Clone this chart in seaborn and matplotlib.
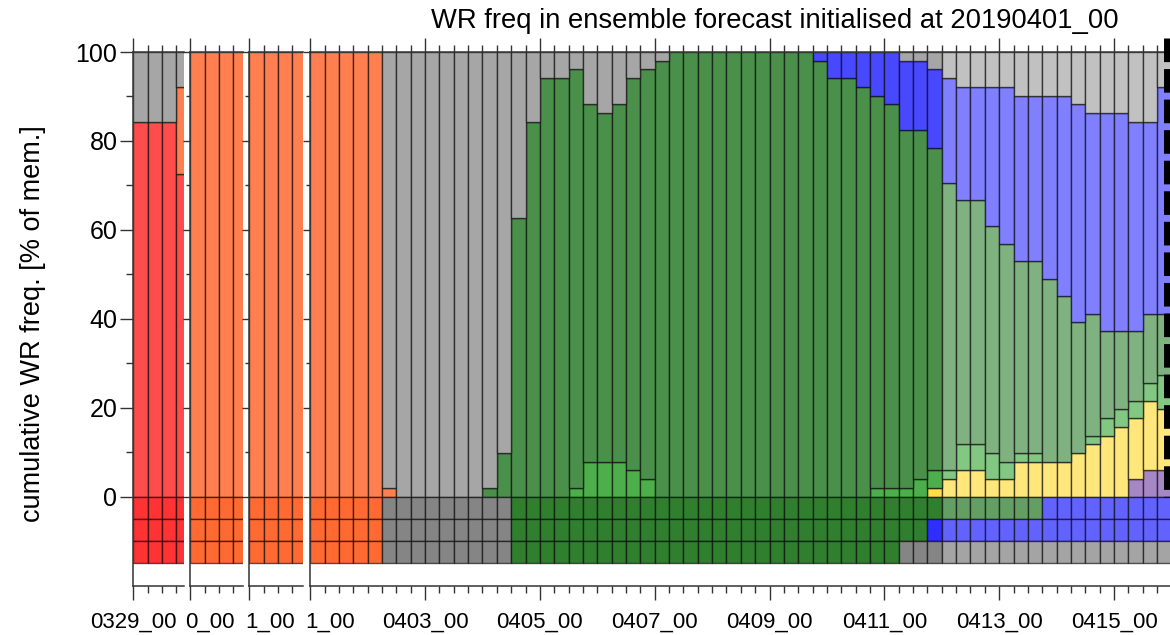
import numpy as np
import matplotlib
matplotlib.use("Agg")
import matplotlib.pyplot as plt
from matplotlib.ticker import FixedLocator, MultipleLocator
from matplotlib.colors import to_rgb
import seaborn as sns

# ---------------- data (member counts out of 51, 6-hourly steps) ----------------
N_MEMBERS = 51
regimes = ["AT", "ZO", "ScTr", "AR", "EuBL", "ScBL", "GL", "no"]

# panel 1: forecast valid 0329_00 .. 0329_18
p1_ZO   = [43, 43, 43, 37]
p1_ScTr = [0, 0, 0, 10]
p1_no   = [8, 8, 8, 4]
# panels 2 and 3: 0330 and 0331
p2_ScTr = [51, 51, 51, 51]
p3_ScTr = [51, 51, 51, 51]

# main panel: forecast initialised 20190401_00, steps 0401_00 .. 0415_18
main_AT = [0]*57 + [2, 3, 3]
main_ScTr = [51, 51, 51, 51, 51, 1] + [0]*54
main_AR = [0]*43 + [1, 2, 3, 3, 2, 2, 4, 4, 4, 4, 5, 6, 7, 8, 7, 8, 7]
main_EuBL = ([0]*18 + [1, 4, 4, 4, 3, 2] + [0]*15 +
             [1, 1, 1, 2, 2, 1, 3, 3, 3, 2, 1, 1, 0, 0, 0, 1, 2, 2, 2, 2, 4])
main_ScBL = ([0]*12 + [1, 5, 32, 43, 48, 48, 48, 41, 40, 41, 45, 47, 50] + [51]*10 +
             [50, 48, 48, 47, 45, 44, 41, 40, 37, 33, 28, 28, 26, 25, 22, 22, 21, 19,
              15, 14, 10, 9, 8, 8, 7])
main_GL = ([0]*35 + [1, 3, 3, 4, 5, 6, 8, 8, 9, 12, 13, 13, 16, 18, 19, 19, 21, 23,
                     25, 23, 25, 25, 24, 22, 26])
main_no = ([0]*5 + [50, 51, 51, 51, 51, 51, 51, 50, 46, 19, 8, 3, 3, 2, 6, 7, 6, 3, 2, 1] +
           [0]*16 + [1, 1, 2, 3, 4, 4, 4, 4, 5, 5, 5, 5, 6, 7, 7, 7, 8, 8, 4])

# classification rows below zero (three rows per time step)
main_row1 = ["ScTr"]*5 + ["no"]*9 + ["ScBL"]*37 + ["GL"]*9
main_row2 = ["ScTr"]*5 + ["no"]*9 + ["ScBL"]*29 + ["GL"]*17
main_row3 = ["ScTr"]*5 + ["no"]*9 + ["ScBL"]*27 + ["no"]*19
EXTENDED_FROM = 44   # steps from 0412_00 on are drawn in lighter shades

main_tick_labels = ["0403_00", "0405_00", "0407_00", "0409_00",
                    "0411_00", "0413_00", "0415_00"]
p1_label = "0329_00"
clipped_labels = ["0_00", "1_00", "1_00"]
title = "WR freq in ensemble forecast initialised at 20190401_00"
ylabel = "cumulative WR freq. [% of mem.]"

# ---------------- styling ----------------
sns.set_theme(style="ticks")
plt.rcParams["font.family"] = ["Liberation Sans", "DejaVu Sans"]
plt.rcParams["text.color"] = "black"

upper = {"AT": "#7E54AC", "ZO": "#FF4D4D", "ScTr": "#FF7F50", "AR": "#FFDD44",
         "EuBL": "#4CAF4C", "ScBL": "#4A904A", "GL": "#4848FF", "no": "#A6A6A6"}
lower = {"AT": "#6A3A9A", "ZO": "#FF3333", "ScTr": "#FF6A33", "AR": "#FFD020",
         "EuBL": "#35A035", "ScBL": "#2F7F2F", "GL": "#2E2EFF", "no": "#858585"}


def lighten(c, f):
    r = np.array(to_rgb(c))
    return tuple(r + (1 - r) * f)


EDGE = (0, 0, 0, 0.62)
AXC = "#333333"
XT_SIZE = 16

W, H = 1170, 635
fig = plt.figure(figsize=(W / 100, H / 100), dpi=100)
Y0_PX, Y1_PX = 585.5, 52.0
STEP_PX = 14.354


def add_panel(x0, x1):
    ax = fig.add_axes([x0 / W, (H - Y0_PX) / H, (x1 - x0) / W, (Y0_PX - Y1_PX) / H])
    ax.set_xlim(0, (x1 - x0) / STEP_PX)
    ax.set_ylim(-20, 100)
    ax.patch.set_alpha(0)
    for s in ["left", "top", "bottom"]:
        ax.spines[s].set_color(AXC)
        ax.spines[s].set_linewidth(1.1)
    ax.spines["right"].set_visible(False)
    return ax


def draw(ax, data, rows, ext_from=None):
    n = len(rows[0])
    bottom = np.zeros(n)
    for reg in regimes:
        if reg not in data:
            continue
        pct = np.asarray(data[reg], float) / N_MEMBERS * 100
        idx = np.nonzero(pct > 0)[0]
        if len(idx):
            cols = [lighten(upper[reg], 0.3) if (ext_from is not None and i >= ext_from)
                    else upper[reg] for i in idx]
            ax.bar(idx, pct[idx], width=1, bottom=bottom[idx], align="edge",
                   color=cols, edgecolor=EDGE, linewidth=1.0, zorder=1)
        bottom += pct
    for r, row in enumerate(rows):
        cols = [lighten(lower[reg], 0.25) if (ext_from is not None and i >= ext_from)
                else lower[reg] for i, reg in enumerate(row)]
        ax.bar(np.arange(n), [5] * n, width=1, bottom=-5 * (r + 1), align="edge",
               color=cols, edgecolor=EDGE, linewidth=1.0, zorder=1)


def ticks(ax, major_x, first=False):
    ax.xaxis.set_major_locator(FixedLocator(major_x))
    ax.xaxis.set_minor_locator(MultipleLocator(1))
    ax.yaxis.set_major_locator(FixedLocator([0, 20, 40, 60, 80, 100]))
    ax.yaxis.set_minor_locator(FixedLocator([10, 30, 50, 70, 90]))
    ax.tick_params(axis="x", which="both", top=True, bottom=True, direction="out",
                   color=AXC, width=1.0, labelcolor="black")
    ax.tick_params(axis="x", which="major", length=10, pad=9, labelsize=XT_SIZE)
    ax.tick_params(axis="x", which="minor", length=5)
    ax.tick_params(axis="y", which="both", left=True, right=False, direction="out",
                   color=AXC, width=1.0, labelcolor="black")
    if first:
        ax.tick_params(axis="y", which="major", length=9.4, pad=2, labelsize=18)
        ax.tick_params(axis="y", which="minor", length=5)
    else:
        ax.tick_params(axis="y", which="major", length=5, labelleft=False)
        ax.tick_params(axis="y", which="minor", length=3, labelleft=False)


# panel 1
ax1 = add_panel(133.3, 184.0)
draw(ax1, {"ZO": p1_ZO, "ScTr": p1_ScTr, "no": p1_no}, [["ZO"] * 4] * 3)
ticks(ax1, [0], first=True)
ax1.set_xticklabels([p1_label])

# panel 2
ax2 = add_panel(190.3, 243.3)
draw(ax2, {"ScTr": p2_ScTr}, [["ScTr"] * 4] * 3)
ticks(ax2, [0])
ax2.set_xticklabels([""])

# panel 3
ax3 = add_panel(249.3, 302.7)
draw(ax3, {"ScTr": p3_ScTr}, [["ScTr"] * 4] * 3)
ticks(ax3, [0])
ax3.set_xticklabels([""])

# main panel
ax4 = add_panel(310.2, 1170.0)
main = {"AT": main_AT, "ScTr": main_ScTr, "AR": main_AR, "EuBL": main_EuBL,
        "ScBL": main_ScBL, "GL": main_GL, "no": main_no}
draw(ax4, main, [main_row1, main_row2, main_row3], ext_from=EXTENDED_FROM)
ticks(ax4, list(range(0, 60, 8)))
ax4.set_xticklabels([""] + main_tick_labels)

# thick dashed marker at the right edge
ax4.plot([59.69, 59.69], [103.2, 0], color="black", lw=5,
         ls=(0, (3.4, 1.0)), clip_on=False, zorder=5)

# clipped start labels of panels 2-4
for xpx, lab in zip([185.6, 245.0, 305.0], clipped_labels):
    fig.text(xpx / W, 1 - 612 / H, lab, ha="left", va="top", fontsize=XT_SIZE,
             color="black")

fig.text(33 / W, 1 - 324 / H, ylabel, rotation=90, ha="center", va="center",
         fontsize=19.5, color="black")
fig.text(775 / W, 1 - 21 / H, title, ha="center", va="center", fontsize=19.7,
         color="black")

fig.savefig("out.png", dpi=100)
